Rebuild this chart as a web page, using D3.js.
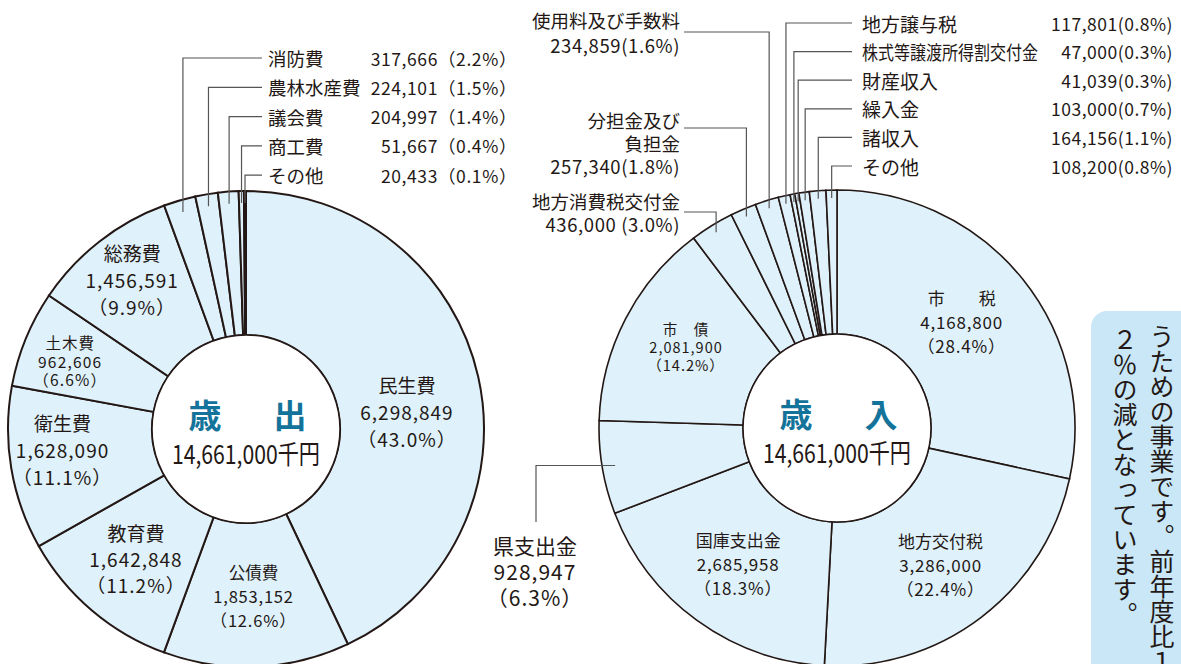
<!DOCTYPE html>
<html>
  <head>
    <title>歳出・歳入 ドーナツグラフ</title>
    <style>
      body { margin: 0; background: #fff; }
      svg { display: block; }
      text { font-family: 'Noto Sans CJK JP', 'Noto Sans', sans-serif; fill: #231815; }
    </style>
  </head>
  <body>
    <svg id="svg" width="1181" height="664"></svg>
    <script src="https://cdn.jsdelivr.net/npm/d3@7"></script>
    <script>
      // 歳出 (千円)
      const outNames = ['民生費', '公債費', '教育費', '衛生費', '土木費', '総務費', '消防費', '農林水産費', '議会費', '商工費', 'その他'];
      const outValues = [6298849, 1853152, 1642848, 1628090, 962606, 1456591, 317666, 224101, 204997, 51667, 20433];
      const outPct = ['43.0', '12.6', '11.2', '11.1', '6.6', '9.9', '2.2', '1.5', '1.4', '0.4', '0.1'];

      // 歳入 (千円)
      const inNames = ['市税', '地方交付税', '国庫支出金', '県支出金', '市債', '地方消費税交付金', '分担金及び負担金', '使用料及び手数料', '地方譲与税', '株式等譲渡所得割交付金', '財産収入', '繰入金', '諸収入', 'その他'];
      const inValues = [4168800, 3286000, 2685958, 928947, 2081900, 436000, 257340, 234859, 117801, 47000, 41039, 103000, 164156, 108200];
      const inPct = ['28.4', '22.4', '18.3', '6.3', '14.2', '3.0', '1.8', '1.6', '0.8', '0.3', '0.3', '0.7', '1.1', '0.8'];

      const outTitle = ['歳', '出'];
      const inTitle = ['歳', '入'];
      const totalLabel = '14,661,000千円';
      const noteLines = ['うための事業です。前年度比１', '２％の減となっています。'];

      const fmt = d3.format(',');
      const ringFill = '#dff1fa';
      const ink = '#231815';
      const blue = '#14739a';
      const lead = '#555';

      const svg = d3.select('#svg');

      // side panel
      svg.append('rect')
        .attr('x', 1091).attr('y', 311)
        .attr('width', 130).attr('height', 400)
        .attr('rx', 16)
        .attr('fill', '#c9e7f7');
      noteLines.forEach((t, i) => {
        svg.append('text')
          .attr('x', 1162 - i * 37)
          .attr('y', 324 + i * 3)
          .style('writing-mode', 'vertical-rl')
          .attr('font-size', 25)
          .text(t);
      });

      const pie = d3.pie().sort(null).value((d) => d.value);

      function donut(cx, cy, names, values, pcts, title, strokeW) {
        const data = names.map((n, i) => ({ name: n, value: values[i], pct: pcts[i] }));
        const arcs = pie(data);
        const g = svg.append('g').attr('transform', `translate(${cx},${cy})`);
        const arc = d3.arc().innerRadius(94).outerRadius(238);
        g.selectAll('path.slice')
          .data(arcs)
          .join('path')
          .attr('class', 'slice')
          .attr('d', arc)
          .attr('fill', ringFill)
          .attr('stroke', ink)
          .attr('stroke-width', strokeW)
          .attr('stroke-linejoin', 'miter');
        g.append('circle').attr('r', 94).attr('fill', '#fff').attr('stroke', ink).attr('stroke-width', 1.5);
        g.append('text').attr('x', -41).attr('y', -15)
          .attr('text-anchor', 'middle').attr('dominant-baseline', 'central')
          .attr('font-size', 33).attr('font-weight', 'bold').style('fill', blue).text(title[0]);
        g.append('text').attr('x', 44).attr('y', -15)
          .attr('text-anchor', 'middle').attr('dominant-baseline', 'central')
          .attr('font-size', 33).attr('font-weight', 'bold').style('fill', blue).text(title[1]);
        g.append('text').attr('x', -74).attr('y', 23)
          .attr('dominant-baseline', 'central')
          .attr('font-size', 26)
          .attr('textLength', 148).attr('lengthAdjust', 'spacingAndGlyphs')
          .text(totalLabel);
        return { g, arcs, cx, cy };
      }

      const mid = (a) => (a.startAngle + a.endAngle) / 2;
      const polar = (a, r) => [r * Math.sin(mid(a)), -r * Math.cos(mid(a))];

      function insideLabel(ch, i, lay) {
        const a = ch.arcs[i];
        const [x, y0] = polar(a, lay.r);
        const lines = [lay.name || a.data.name, fmt(a.data.value), `（${a.data.pct}%）`];
        const y = y0 + (lay.dy || 0) - lay.lh;
        lines.forEach((t, k) => {
          ch.g.append('text')
            .attr('x', x).attr('y', y + k * lay.lh)
            .attr('text-anchor', 'middle').attr('dominant-baseline', 'central')
            .attr('font-size', lay.size)
            .attr('letter-spacing', k === 0 ? (lay.ls || 0) : (lay.nls || 0.8))
            .text(t);
        });
      }

      // ---- 歳出 ----
      const left = donut(246, 429, outNames, outValues, outPct, outTitle, 2);
      const leftInside = [
        { r: 165, dy: 19, size: 19, lh: 27, nls: 1 },
        { r: 167, dy: 0, size: 16.5, lh: 24 },
        { r: 170, dy: 0, size: 19, lh: 26, nls: 1 },
        { r: 186, dy: -10, size: 19, lh: 27, nls: 1 },
        { r: 190, dy: 4, size: 15.5, lh: 18.5, ls: 1, nls: 1.2 },
        { r: 185, dy: -4, size: 19, lh: 27, nls: 1 },
      ];
      leftInside.forEach((lay, i) => insideLabel(left, i, lay));

      // small slices at top with leader lines
      for (let i = 6; i < outNames.length; i++) {
        const a = left.arcs[i];
        const [px, py] = polar(a, 226);
        const x = left.cx + px, y = left.cy + py;
        const rowY = 58 + (i - 6) * 29.3;
        svg.append('path')
          .attr('d', d3.line()([[x, y], [x, rowY], [262, rowY]]))
          .attr('fill', 'none').attr('stroke', lead).attr('stroke-width', 1.2);
        svg.append('text').attr('x', 268).attr('y', rowY)
          .attr('dominant-baseline', 'central').attr('font-size', 18.5).text(a.data.name);
        svg.append('text').attr('x', 517).attr('y', rowY)
          .attr('text-anchor', 'end').attr('dominant-baseline', 'central').attr('font-size', 17.5)
          .attr('letter-spacing', 0.6)
          .text(`${fmt(a.data.value)}（${a.data.pct}%）`);
      }

      // ---- 歳入 ----
      const right = donut(837, 428, inNames, inValues, inPct, inTitle, 1.6);
      const rightInside = [
        { r: 160, dy: -6, size: 17, lh: 24, name: '市　　税' },
        { r: 171, dy: 0, size: 17, lh: 24 },
        { r: 168, dy: 0, size: 17, lh: 24 },
        null,
        { r: 170, dy: -3, size: 14.5, lh: 18, name: '市　債', ls: 1, nls: 1 },
      ];
      rightInside.forEach((lay, i) => { if (lay) insideLabel(right, i, lay); });

      // 県支出金 (leader from the left)
      {
        const a = right.arcs[3];
        const [px, py] = polar(a, 225);
        const x = right.cx + px, y = right.cy + py;
        svg.append('path')
          .attr('d', d3.line()([[x, y], [536, y], [536, 522]]))
          .attr('fill', 'none').attr('stroke', lead).attr('stroke-width', 1.2);
        const lines = [a.data.name, fmt(a.data.value), `（${a.data.pct}%）`];
        lines.forEach((t, k) => {
          svg.append('text').attr('x', 535).attr('y', 545 + k * 26)
            .attr('text-anchor', 'middle').attr('dominant-baseline', 'central')
            .attr('letter-spacing', k === 0 ? 0 : 1)
            .attr('font-size', 21).text(t);
        });
      }

      // middle labels (right-aligned, leaders to the right)
      const midRows = [
        { i: 5, lines: ['地方消費税交付金', `${fmt(inValues[5])} (${inPct[5]}%)`], ys: [201, 224], lineY: 212 },
        { i: 6, lines: ['分担金及び', '負担金', `${fmt(inValues[6])}(${inPct[6]}%)`], ys: [120, 143, 166], lineY: 128 },
        { i: 7, lines: ['使用料及び手数料', `${fmt(inValues[7])}(${inPct[7]}%)`], ys: [20, 45], lineY: 32 },
      ];
      midRows.forEach((m) => {
        const a = right.arcs[m.i];
        const [px, py] = polar(a, 230);
        const x = right.cx + px, y = right.cy + py;
        svg.append('path')
          .attr('d', d3.line()([[684, m.lineY], [x, m.lineY], [x, y]]))
          .attr('fill', 'none').attr('stroke', lead).attr('stroke-width', 1.2);
        m.lines.forEach((t, k) => {
          svg.append('text').attr('x', 680).attr('y', m.ys[k])
            .attr('text-anchor', 'end').attr('dominant-baseline', 'central')
            .attr('letter-spacing', k === m.lines.length - 1 ? 0.6 : 0)
            .attr('font-size', 18.5).text(t);
        });
      });

      // top-right small slices
      for (let i = 8; i < inNames.length; i++) {
        const a = right.arcs[i];
        const [px, py] = polar(a, 230);
        const x = right.cx + px, y = right.cy + py;
        const rowY = 23 + (i - 8) * 28.6;
        svg.append('path')
          .attr('d', d3.line()([[x, y], [x, rowY], [852, rowY]]))
          .attr('fill', 'none').attr('stroke', lead).attr('stroke-width', 1.2);
        const t = svg.append('text').attr('x', 862).attr('y', rowY)
          .attr('dominant-baseline', 'central').attr('font-size', 19).text(a.data.name);
        if (a.data.name.length > 8) t.attr('textLength', 176).attr('lengthAdjust', 'spacingAndGlyphs');
        svg.append('text').attr('x', 1173).attr('y', rowY)
          .attr('text-anchor', 'end').attr('dominant-baseline', 'central').attr('font-size', 17.5)
          .attr('letter-spacing', 0.5)
          .text(`${fmt(a.data.value)}(${a.data.pct}%)`);
      }
    </script>
  </body>
</html>
